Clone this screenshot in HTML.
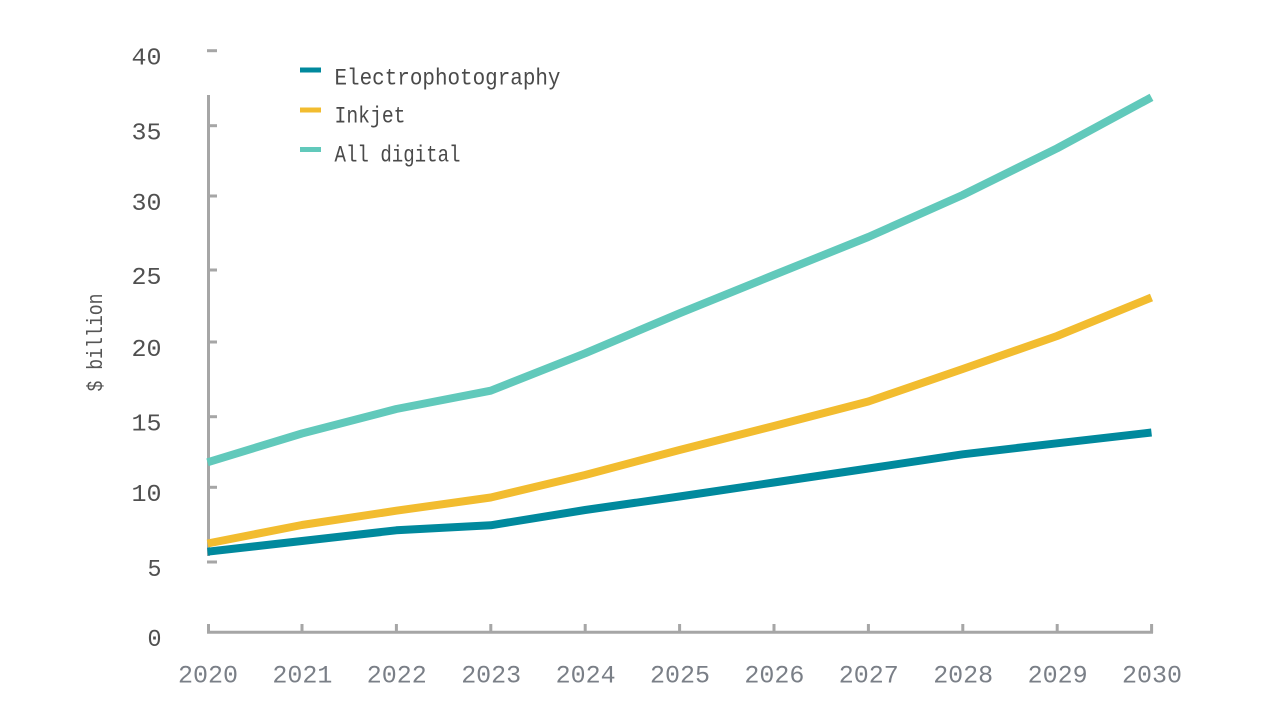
<!DOCTYPE html>
<html>
<head>
<meta charset="utf-8">
<style>
  html, body { margin: 0; padding: 0; background: #ffffff; }
  body { width: 1280px; height: 720px; overflow: hidden; }
  svg { display: block; }
  text { font-family: "Liberation Mono", "DejaVu Sans Mono", monospace; }
</style>
</head>
<body>
<svg width="1280" height="720" viewBox="0 0 1280 720" xmlns="http://www.w3.org/2000/svg">
  <rect width="1280" height="720" fill="#ffffff"/>

  <!-- Y axis -->
  <g stroke="#a6a6a6" stroke-width="3" fill="none">
    <line x1="208.5" y1="95" x2="208.5" y2="556"/>
    <line x1="207" y1="50.7" x2="217" y2="50.7"/>
    <line x1="208" y1="125.7" x2="217" y2="125.7"/>
    <line x1="208" y1="196" x2="217" y2="196"/>
    <line x1="208" y1="270" x2="217" y2="270"/>
    <line x1="208" y1="342" x2="217" y2="342"/>
    <line x1="208" y1="416.7" x2="217" y2="416.7"/>
    <line x1="208" y1="487.3" x2="217" y2="487.3"/>
    <line x1="207" y1="562" x2="217" y2="562"/>
    <!-- X axis -->
    <line x1="207" y1="632.3" x2="1153" y2="632.3"/>
    <line x1="208.5" y1="624" x2="208.5" y2="633"/>
    <line x1="302" y1="624" x2="302" y2="633"/>
    <line x1="396.4" y1="624" x2="396.4" y2="633"/>
    <line x1="490.8" y1="624" x2="490.8" y2="633"/>
    <line x1="585.2" y1="624" x2="585.2" y2="633"/>
    <line x1="679.6" y1="624" x2="679.6" y2="633"/>
    <line x1="774" y1="624" x2="774" y2="633"/>
    <line x1="868.4" y1="624" x2="868.4" y2="633"/>
    <line x1="962.8" y1="624" x2="962.8" y2="633"/>
    <line x1="1057.2" y1="624" x2="1057.2" y2="633"/>
    <line x1="1151.6" y1="624" x2="1151.6" y2="633"/>
  </g>

  <!-- Y tick labels -->
  <g fill="#505050" font-size="24" text-anchor="end">
    <text x="161.5" y="64.5" textLength="30" lengthAdjust="spacingAndGlyphs">40</text>
    <text x="161.5" y="139.5" textLength="30" lengthAdjust="spacingAndGlyphs">35</text>
    <text x="161.5" y="210" textLength="30" lengthAdjust="spacingAndGlyphs">30</text>
    <text x="161.5" y="284" textLength="30" lengthAdjust="spacingAndGlyphs">25</text>
    <text x="161.5" y="356" textLength="30" lengthAdjust="spacingAndGlyphs">20</text>
    <text x="161.5" y="430.5" textLength="30" lengthAdjust="spacingAndGlyphs">15</text>
    <text x="161.5" y="501" textLength="30" lengthAdjust="spacingAndGlyphs">10</text>
    <text x="161.5" y="576" textLength="14" lengthAdjust="spacingAndGlyphs">5</text>
    <text x="161.5" y="646" textLength="14" lengthAdjust="spacingAndGlyphs">0</text>
  </g>

  <!-- Y axis title -->
  <text transform="translate(102,342.5) rotate(-90)" fill="#555555" font-size="22" text-anchor="middle" textLength="98" lengthAdjust="spacingAndGlyphs">$ billion</text>

  <!-- X tick labels -->
  <g fill="#7a7f87" font-size="25" text-anchor="middle">
    <text x="208" y="682.5" textLength="60" lengthAdjust="spacingAndGlyphs">2020</text>
    <text x="302.4" y="682.5" textLength="60" lengthAdjust="spacingAndGlyphs">2021</text>
    <text x="396.8" y="682.5" textLength="60" lengthAdjust="spacingAndGlyphs">2022</text>
    <text x="491.2" y="682.5" textLength="60" lengthAdjust="spacingAndGlyphs">2023</text>
    <text x="585.6" y="682.5" textLength="60" lengthAdjust="spacingAndGlyphs">2024</text>
    <text x="680" y="682.5" textLength="60" lengthAdjust="spacingAndGlyphs">2025</text>
    <text x="774.4" y="682.5" textLength="60" lengthAdjust="spacingAndGlyphs">2026</text>
    <text x="868.8" y="682.5" textLength="60" lengthAdjust="spacingAndGlyphs">2027</text>
    <text x="963.2" y="682.5" textLength="60" lengthAdjust="spacingAndGlyphs">2028</text>
    <text x="1057.6" y="682.5" textLength="60" lengthAdjust="spacingAndGlyphs">2029</text>
    <text x="1152" y="682.5" textLength="60" lengthAdjust="spacingAndGlyphs">2030</text>
  </g>

  <!-- Series -->
  <g fill="none" stroke-width="8" stroke-linejoin="round" stroke-linecap="butt">
    <polyline stroke="#61c9bb" points="207.5,462.3 301.9,433.5 396.3,409 490.7,390.7 585.1,353.3 679.5,313.3 773.9,275 868.3,237 962.7,195 1057.1,148.3 1151.5,97.3"/>
    <polyline stroke="#f2bc2f" points="207.5,543.5 301.9,525 396.3,510.7 490.7,497.5 585.1,475 679.5,450 773.9,426 868.3,401.5 962.7,369 1057.1,336 1151.5,297.5"/>
    <polyline stroke="#00899d" points="207.5,551.7 301.9,541 396.3,530.3 490.7,525.3 585.1,510 679.5,496.5 773.9,482.5 868.3,468.5 962.7,454.3 1057.1,443.3 1151.5,432.5"/>
  </g>

  <!-- Legend -->
  <g stroke-width="5">
    <line x1="300" y1="70" x2="321" y2="70" stroke="#00899d"/>
    <line x1="300" y1="110" x2="321" y2="110" stroke="#f2bc2f"/>
    <line x1="300" y1="149.5" x2="321" y2="149.5" stroke="#61c9bb"/>
  </g>
  <g fill="#4a4a4a" font-size="23">
    <text x="334.5" y="84.3" textLength="226" lengthAdjust="spacingAndGlyphs">Electrophotography</text>
    <text x="334.5" y="122.3" textLength="71" lengthAdjust="spacingAndGlyphs">Inkjet</text>
    <text x="334.5" y="161.7" textLength="126" lengthAdjust="spacingAndGlyphs">All digital</text>
  </g>
</svg>
</body>
</html>
